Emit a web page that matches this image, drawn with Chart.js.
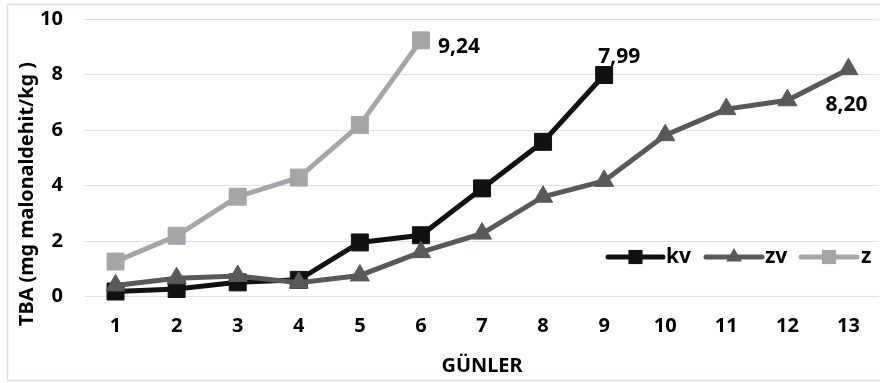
<!DOCTYPE html>
<html>
<head>
<meta charset="utf-8">
<script src="https://cdn.jsdelivr.net/npm/chart.js@4.4.1/dist/chart.umd.min.js"></script>
<style>
  html, body { margin: 0; padding: 0; background: #ffffff; }
  #wrap { width: 880px; height: 383px; position: relative; }
</style>
</head>
<body>
<div id="wrap"><canvas id="c" width="880" height="383"></canvas></div>
<script>
// ---- data ----
const days = ['1','2','3','4','5','6','7','8','9','10','11','12','13'];
const seriesNames = ['kv', 'zv', 'z'];
const kvValues = [0.18, 0.27, 0.51, 0.60, 1.95, 2.21, 3.90, 5.58, 7.99];
const zvValues = [0.40, 0.66, 0.74, 0.50, 0.76, 1.60, 2.27, 3.60, 4.17, 5.82, 6.76, 7.08, 8.20];
const zValues  = [1.26, 2.19, 3.60, 4.29, 6.19, 9.24];
const yMin = 0, yMax = 10, yStep = 2;
const xTitle = 'GÜNLER';
const yTitle = 'TBA (mg malonaldehit/kg )';

// ---- styles ----
const FONT = '"Noto Sans", "Open Sans", "Liberation Sans", sans-serif';
const colors = ['#111111', '#595959', '#a6a6a6'];
const styles = ['rect', 'triangle', 'rect'];
const radii = [12, 11, 12];
const gridColor = '#d9e2f3';

function fmt(v) { return v.toFixed(2).replace('.', ','); }

// font size that makes a text span a target pixel length
function fittedFont(ctx, text, target) {
  ctx.font = 'bold 20px ' + FONT;
  const w = ctx.measureText(text).width;
  const size = Math.max(12, Math.min(26, 20 * target / w));
  return 'bold ' + size.toFixed(2) + 'px ' + FONT;
}

function drawMarker(ctx, style, x, y, r, color) {
  ctx.save();
  ctx.fillStyle = color;
  ctx.beginPath();
  if (style === 'rect') {
    const s = Math.SQRT1_2 * r;
    ctx.rect(x - s, y - s, 2 * s, 2 * s);
  } else {
    const w = r * Math.sqrt(3) / 2;
    ctx.moveTo(x, y - r);
    ctx.lineTo(x + w, y + r / 2);
    ctx.lineTo(x - w, y + r / 2);
    ctx.closePath();
  }
  ctx.fill();
  ctx.restore();
}

// label offsets relative to the last point of each series (style only)
const lastLabelOffsets = [ {dx: 15, dy: -18, align: 'center'},
                           {dx: -2, dy: 36, align: 'center'},
                           {dx: 17, dy: 7, align: 'left'} ];

const deco = {
  id: 'deco',
  beforeDraw(chart) {
    const ctx = chart.ctx;
    ctx.save();
    ctx.fillStyle = '#ffffff';
    ctx.fillRect(0, 0, chart.width, chart.height);
    ctx.strokeStyle = '#d6e0f0';
    ctx.lineWidth = 1.5;
    ctx.strokeRect(7.5, 4.5, 890, 376);
    ctx.restore();
  },
  afterDatasetsDraw(chart) {
    const ctx = chart.ctx;
    ctx.save();
    ctx.font = 'bold 21px ' + FONT;
    ctx.fillStyle = '#000000';
    ctx.textBaseline = 'middle';
    chart.data.datasets.forEach((ds, i) => {
      const meta = chart.getDatasetMeta(i);
      const last = meta.data[meta.data.length - 1];
      const off = lastLabelOffsets[i];
      ctx.textAlign = off.align;
      ctx.fillText(fmt(ds.data[ds.data.length - 1]), last.x + off.dx, last.y + off.dy);
    });
    const ly = 257;
    const items = [ {x0: 608, x1: 663, tx: 666}, {x0: 706, x1: 762, tx: 765}, {x0: 801, x1: 857, tx: 861} ];
    chart.data.datasets.forEach((ds, i) => {
      const it = items[i];
      ctx.strokeStyle = ds.borderColor;
      ctx.lineWidth = 5;
      ctx.lineCap = 'round';
      ctx.beginPath();
      ctx.moveTo(it.x0, ly);
      ctx.lineTo(it.x1, ly);
      ctx.stroke();
      drawMarker(ctx, ds.pointStyle, (it.x0 + it.x1) / 2, ly, ds.pointStyle === 'rect' ? 10 : 9, ds.borderColor);
      ctx.fillStyle = '#000000';
      ctx.textAlign = 'left';
      ctx.textBaseline = 'middle';
      ctx.font = 'bold 21px ' + FONT;
      ctx.fillText(ds.label, it.tx, ly);
    });
    ctx.restore();
  },
  afterDraw(chart) {
    const ctx = chart.ctx;
    const area = chart.chartArea;
    ctx.save();
    ctx.fillStyle = '#000000';
    ctx.textAlign = 'center';
    ctx.textBaseline = 'alphabetic';
    ctx.font = fittedFont(ctx, xTitle, 81);
    ctx.fillText(xTitle, (area.left + area.right) / 2, 372);
    ctx.font = fittedFont(ctx, yTitle, 264);
    ctx.translate(33, 194);
    ctx.rotate(-Math.PI / 2);
    ctx.fillText(yTitle, 0, 0);
    ctx.restore();
  }
};

const datasets = [kvValues, zvValues, zValues].map((vals, i) => ({
  label: seriesNames[i],
  data: vals,
  borderColor: colors[i],
  backgroundColor: colors[i],
  pointBackgroundColor: colors[i],
  pointBorderColor: colors[i],
  pointBorderWidth: 1,
  pointStyle: styles[i],
  pointRadius: radii[i],
  pointHoverRadius: radii[i],
  borderWidth: 5,
  tension: 0,
  fill: false,
  clip: false,
  order: 3 - i
}));

new Chart(document.getElementById('c'), {
  type: 'line',
  data: { labels: days, datasets },
  options: {
    responsive: false,
    animation: false,
    devicePixelRatio: 1,
    layout: { autoPadding: false, padding: { left: 0, right: 1, top: 19.3, bottom: 0 } },
    plugins: { legend: { display: false }, tooltip: { enabled: false } },
    scales: {
      x: {
        type: 'category',
        offset: true,
        grid: { display: false, drawTicks: false },
        border: { display: false },
        ticks: { color: '#000', font: { family: FONT, size: 20, weight: 'bold' }, padding: 18, maxRotation: 0, autoSkip: false },
        afterFit(scale) { scale.height = 86.5; scale.paddingLeft = 0; scale.paddingRight = 0; }
      },
      y: {
        min: yMin, max: yMax,
        ticks: { stepSize: yStep, color: '#000', font: { family: FONT, size: 20, weight: 'bold' }, padding: 22 },
        grid: { color: gridColor, lineWidth: 1, drawTicks: false },
        border: { display: false },
        afterFit(scale) { scale.width = 85; scale.paddingTop = 0; scale.paddingBottom = 0; }
      }
    }
  },
  plugins: [deco]
});
</script>
</body>
</html>
